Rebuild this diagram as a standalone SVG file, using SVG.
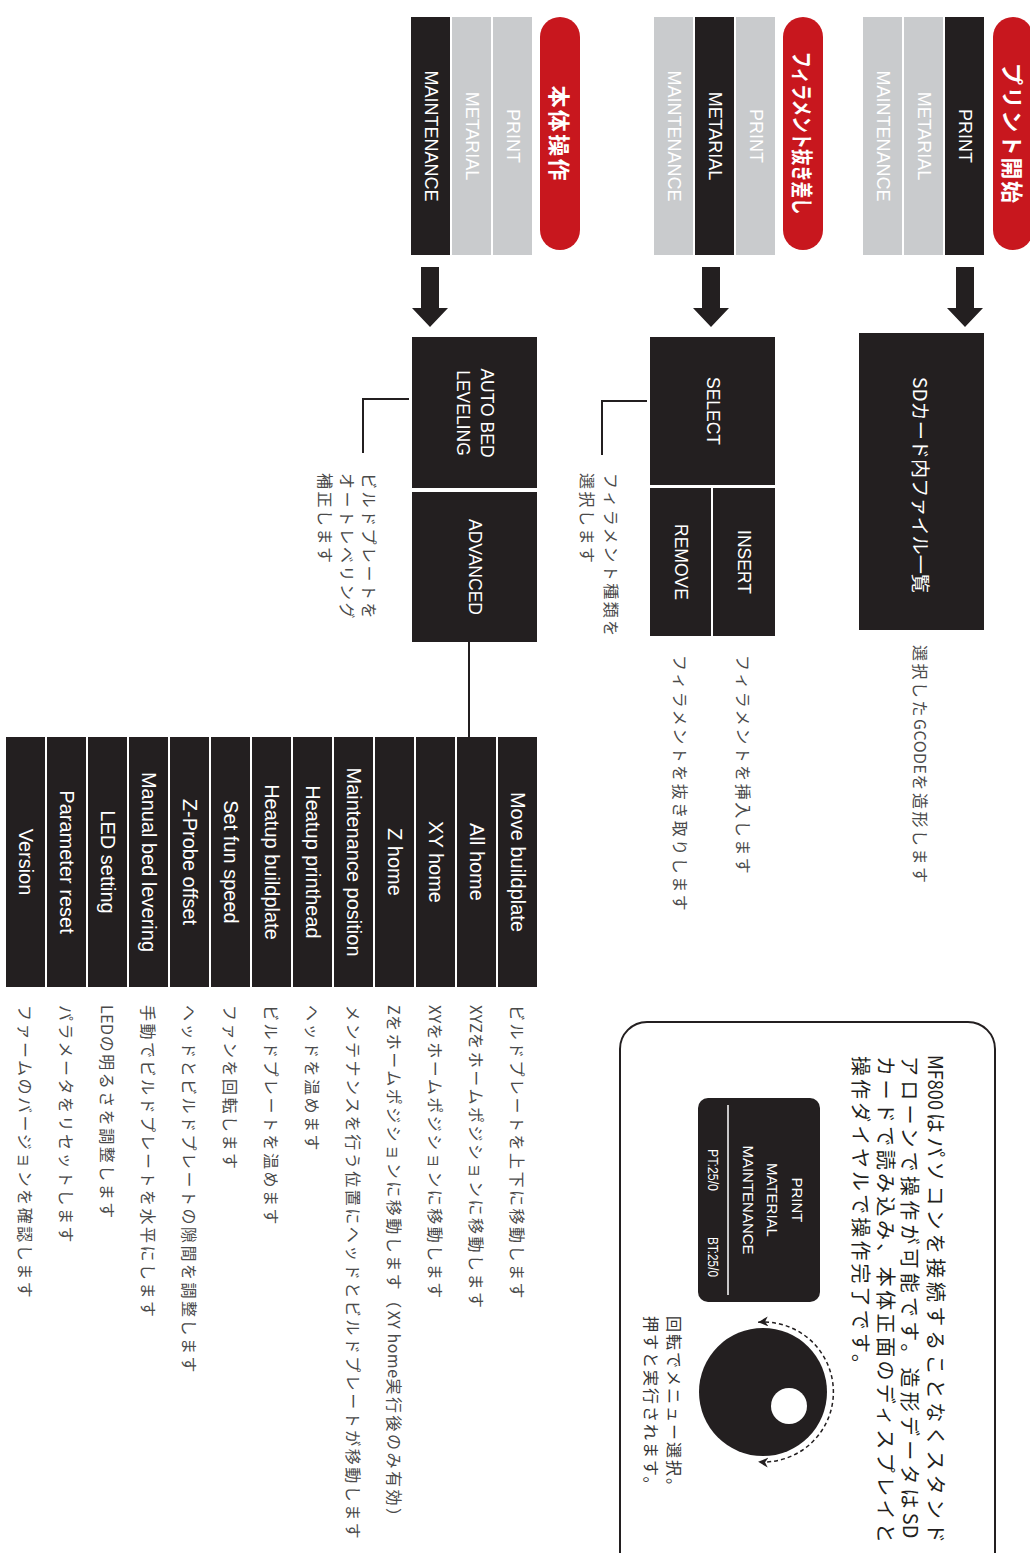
<svg xmlns="http://www.w3.org/2000/svg" width="1030" height="1553" viewBox="0 0 1030 1553">
<defs>
<style>
.on{fill:#231f20}
.off{fill:#c9cbcd}
.tabt{font-family:"Liberation Sans","Noto Sans CJK JP",sans-serif;font-size:18px;fill:#fff;text-anchor:middle;dominant-baseline:central}
.pill{fill:#c8171e}
.pillt{font-family:"Noto Sans CJK JP",sans-serif;font-weight:bold;font-size:22px;fill:#fff;text-anchor:middle;dominant-baseline:central}
.box{fill:#231f20}
.boxt{font-family:"Liberation Sans","Noto Sans CJK JP",sans-serif;font-size:17.5px;fill:#fff;text-anchor:middle;dominant-baseline:central}
.item{font-family:"Liberation Sans",sans-serif;font-size:20px;fill:#fff;text-anchor:middle;dominant-baseline:central}
.desc{font-family:"Noto Sans CJK JP",sans-serif;font-size:16px;fill:#4a4a4a;letter-spacing:2.5px;dominant-baseline:central}
.lat{letter-spacing:0.5px}
.info{font-family:"Noto Sans CJK JP",sans-serif;font-size:20px;fill:#231f20;dominant-baseline:central}
.disp{font-family:"Liberation Sans",sans-serif;font-size:15px;fill:#fff;text-anchor:middle;dominant-baseline:central}
.line{stroke:#231f20;stroke-width:2;fill:none}
.arrow{fill:#231f20}
</style>
<marker id="ah" viewBox="0 0 10 10" refX="10" refY="5" markerWidth="10" markerHeight="10" markerUnits="userSpaceOnUse" orient="auto-start-reverse">
<path d="M0,0 L10,5 L0,10 L3,5 Z" fill="#231f20"/>
</marker>
</defs>
<g transform="translate(1030,0) rotate(90)">

<g id="menu-print">
<rect class="pill" x="17" y="-3" width="233" height="40" rx="20"/>
<text class="pillt" x="133" y="16" textLength="140" lengthAdjust="spacing">プリント開始</text>
<rect class="on" x="17" y="46" width="238" height="39"/>
<text class="tabt" x="136" y="65.5">PRINT</text>
<rect class="off" x="17" y="87" width="238" height="39"/>
<text class="tabt" x="136" y="106.5">METARIAL</text>
<rect class="off" x="17" y="128" width="238" height="39"/>
<text class="tabt" x="136" y="147.5">MAINTENANCE</text>
</g>

<g id="node-sd">
<rect class="box" x="333" y="46" width="297" height="125"/>
<text class="boxt" x="485" y="108.5" style="font-family:'Noto Sans CJK JP',sans-serif;font-size:19px" textLength="216" lengthAdjust="spacingAndGlyphs">SDカード内ファイル一覧</text>
<text class="desc" x="645" y="109">選択した<tspan class="lat">GCODE</tspan>を造形します</text>
</g>

<g id="menu-material">
<rect class="pill" x="17" y="207" width="233" height="40" rx="20"/>
<text class="pillt" x="133" y="226" textLength="163" lengthAdjust="spacingAndGlyphs">フィラメント抜き差し</text>
<rect class="off" x="17" y="255" width="238" height="39"/>
<text class="tabt" x="136" y="274.5">PRINT</text>
<rect class="on" x="17" y="296" width="238" height="39"/>
<text class="tabt" x="136" y="315.5">METARIAL</text>
<rect class="off" x="17" y="337" width="238" height="39"/>
<text class="tabt" x="136" y="356.5">MAINTENANCE</text>
</g>

<g id="node-select">
<rect class="box" x="337" y="255" width="148" height="125"/>
<text class="boxt" x="411" y="317.5">SELECT</text>
</g>
<g id="node-insert">
<rect class="box" x="488" y="255" width="148" height="62"/>
<text class="boxt" x="562" y="286">INSERT</text>
<text class="desc" x="655" y="286">フィラメントを挿入します</text>
</g>
<g id="node-remove">
<rect class="box" x="488" y="319" width="148" height="61"/>
<text class="boxt" x="562" y="349.5">REMOVE</text>
<text class="desc" x="655" y="349">フィラメントを抜き取りします</text>
</g>
<g id="note-select">
<text class="desc" x="473" y="418">フィラメント種類を</text>
<text class="desc" x="473" y="442">選択します</text>
</g>

<g id="menu-maintenance">
<rect class="pill" x="17" y="450" width="233" height="40" rx="20"/>
<text class="pillt" x="133" y="469" textLength="95" lengthAdjust="spacing">本体操作</text>
<rect class="off" x="17" y="498" width="238" height="39"/>
<text class="tabt" x="136" y="517.5">PRINT</text>
<rect class="off" x="17" y="539" width="238" height="39"/>
<text class="tabt" x="136" y="558.5">METARIAL</text>
<rect class="on" x="17" y="580" width="238" height="39"/>
<text class="tabt" x="136" y="599.5">MAINTENANCE</text>
</g>

<g id="node-autobed">
<rect class="box" x="337" y="493" width="151" height="125"/>
<text class="boxt" x="413" y="543">AUTO BED</text>
<text class="boxt" x="413" y="567">LEVELING</text>
</g>
<g id="note-autobed">
<text class="desc" x="473" y="660">ビルドプレートを</text>
<text class="desc" x="473" y="682">オートレベリング</text>
<text class="desc" x="473" y="704">補正します</text>
</g>
<g id="node-advanced">
<rect class="box" x="492" y="493" width="150" height="125"/>
<text class="boxt" x="567" y="555.5">ADVANCED</text>
</g>

<g id="advanced-items">
<rect class="box" x="737" y="493" width="250" height="39"/><text class="item" x="862" y="512.5">Move buildplate</text><text class="desc" x="1005" y="512.5">ビルドプレートを上下に移動します</text>
<rect class="box" x="737" y="534" width="250" height="39"/><text class="item" x="862" y="553.5">All home</text><text class="desc" x="1005" y="553.5"><tspan class="lat">XYZ</tspan>をホームポジションに移動します</text>
<rect class="box" x="737" y="575" width="250" height="39"/><text class="item" x="862" y="594.5">XY home</text><text class="desc" x="1005" y="594.5"><tspan class="lat">XY</tspan>をホームポジションに移動します</text>
<rect class="box" x="737" y="616" width="250" height="39"/><text class="item" x="862" y="635.5">Z home</text><text class="desc" x="1005" y="635.5"><tspan class="lat">Z</tspan>をホームポジションに移動します（<tspan class="lat">XY home</tspan>実行後のみ有効）</text>
<rect class="box" x="737" y="657" width="250" height="39"/><text class="item" x="862" y="676.5">Maintenance position</text><text class="desc" x="1005" y="676.5">メンテナンスを行う位置にヘッドとビルドプレートが移動します</text>
<rect class="box" x="737" y="698" width="250" height="39"/><text class="item" x="862" y="717.5">Heatup printhead</text><text class="desc" x="1005" y="717.5">ヘッドを温めます</text>
<rect class="box" x="737" y="739" width="250" height="39"/><text class="item" x="862" y="758.5">Heatup buildplate</text><text class="desc" x="1005" y="758.5">ビルドプレートを温めます</text>
<rect class="box" x="737" y="780" width="250" height="39"/><text class="item" x="862" y="799.5">Set fun speed</text><text class="desc" x="1005" y="799.5">ファンを回転します</text>
<rect class="box" x="737" y="821" width="250" height="39"/><text class="item" x="862" y="840.5">Z-Probe offset</text><text class="desc" x="1005" y="840.5">ヘッドとビルドプレートの隙間を調整します</text>
<rect class="box" x="737" y="862" width="250" height="39"/><text class="item" x="862" y="881.5">Manual bed levering</text><text class="desc" x="1005" y="881.5">手動でビルドプレートを水平にします</text>
<rect class="box" x="737" y="903" width="250" height="39"/><text class="item" x="862" y="922.5">LED setting</text><text class="desc" x="1005" y="922.5"><tspan class="lat">LED</tspan>の明るさを調整します</text>
<rect class="box" x="737" y="944" width="250" height="39"/><text class="item" x="862" y="963.5">Parameter reset</text><text class="desc" x="1005" y="963.5">パラメータをリセットします</text>
<rect class="box" x="737" y="985" width="250" height="39"/><text class="item" x="862" y="1004.5">Version</text><text class="desc" x="1005" y="1004.5">ファームのバージョンを確認します</text>
</g>

<g id="connectors">
<polygon class="arrow" points="267,56 308,56 308,47 327,65 308,83 308,74 267,74"/>
<polygon class="arrow" points="267,310 308,310 308,301 327,319 308,337 308,328 267,328"/>
<polygon class="arrow" points="267,591 308,591 308,582 327,600 308,618 308,609 267,609"/>
<polyline class="line" points="401,383 401,428 455,428"/>
<polyline class="line" points="399,621 399,667 453,667"/>
<line class="line" x1="642" y1="561" x2="738" y2="561"/>
</g>

<g id="info-panel">
<rect x="1022" y="35" width="560" height="375" rx="27" fill="#fff" stroke="#231f20" stroke-width="2"/>
<text class="info" x="1055" y="94" textLength="55" lengthAdjust="spacingAndGlyphs">MF800</text>
<text class="info" x="1113" y="94" textLength="430" lengthAdjust="spacing">はパソコンを接続することなくスタンド</text>
<text class="info" x="1056" y="119"><tspan style="letter-spacing:4.2px">アローンで操作が可能です。造形データは</tspan>SD</text>
<text class="info" x="1056" y="144" textLength="487" lengthAdjust="spacing">カードで読み込み、本体正面のディスプレイと</text>
<text class="info" x="1056" y="169" textLength="318" lengthAdjust="spacing">操作ダイヤルで操作完了です。</text>
<rect x="1098" y="210" width="204" height="122" rx="10" fill="#231f20"/>
<line x1="1105" y1="302" x2="1295" y2="302" stroke="#fff" stroke-width="1.5"/>
<text class="disp" x="1200" y="233">PRINT</text>
<text class="disp" x="1200" y="258">MATERIAL</text>
<text class="disp" x="1200" y="282">MAINTENANCE</text>
<text class="disp" x="1170" y="317" textLength="42" lengthAdjust="spacingAndGlyphs">PT:25/0</text>
<text class="disp" x="1257" y="317" textLength="40" lengthAdjust="spacingAndGlyphs">BT:25/0</text>
<circle cx="1392" cy="267" r="64" fill="#231f20"/>
<circle cx="1406" cy="241" r="18" fill="#fff"/>
<path d="M1322.2,271.9 A70,70 0 1 1 1461.8,271.9" fill="none" stroke="#231f20" stroke-width="1.5" stroke-dasharray="4 3" marker-start="url(#ah)" marker-end="url(#ah)"/>
<text class="desc" x="1316" y="355" style="fill:#333;font-size:16px;letter-spacing:2px">回転でメニュー選択。</text>
<text class="desc" x="1316" y="378" style="fill:#333;font-size:16px;letter-spacing:2px">押すと実行されます。</text>
</g>

</g>
</svg>
